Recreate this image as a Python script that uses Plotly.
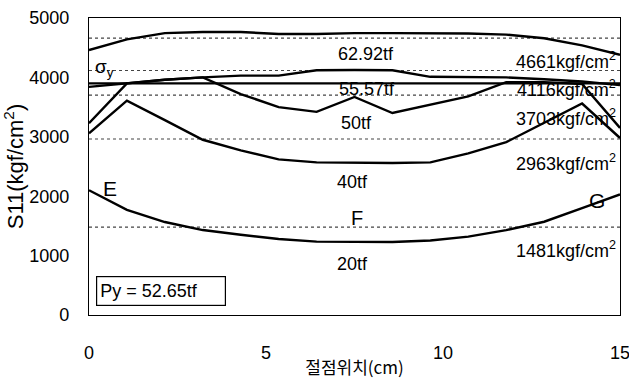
import plotly.graph_objects as go

# Node positions along the member (cm): 15 equally spaced nodes
node_x = [round(i * 15 / 14, 3) for i in range(15)]

load_labels = ["62.92tf", "55.57tf", "50tf", "40tf", "20tf"]
s11_6292 = [4460, 4640, 4745, 4765, 4765, 4730, 4730, 4745, 4745, 4745, 4740, 4720, 4660, 4540, 4380]
s11_5557 = [3840, 3900, 3960, 4000, 4030, 4030, 4120, 4125, 4120, 4010, 4005, 4000, 3970, 3930, 3870]
s11_50 = [3230, 3900, 3960, 4000, 3720, 3500, 3420, 3670, 3400, 3540, 3680, 3920, 3920, 3890, 3150]
s11_40 = [3060, 3610, 3280, 2950, 2770, 2620, 2570, 2560, 2560, 2570, 2720, 2910, 3230, 3560, 2980]
s11_20 = [2100, 1770, 1565, 1430, 1350, 1280, 1235, 1230, 1230, 1255, 1320, 1430, 1570, 1800, 2030]
series = [s11_6292, s11_5557, s11_50, s11_40, s11_20]

# Nominal stress P/A for each load (kgf/cm^2)
nominal = [4661, 4116, 3703, 2963, 1481]
sigma_y = 3900  # yield stress line (Py = 52.65tf)
py_text = "Py = 52.65tf"

FONT = "Liberation Sans, Arial, Helvetica, sans-serif"
FS = 18
fig = go.Figure()

for v in nominal:
    fig.add_trace(go.Scatter(x=[0, 15], y=[v, v], mode="lines",
                             line=dict(color="#444", width=1.2, dash="dot"),
                             hoverinfo="skip", showlegend=False))

fig.add_trace(go.Scatter(x=[0, 15], y=[sigma_y, sigma_y], mode="lines",
                         line=dict(color="black", width=2.4),
                         hoverinfo="skip", showlegend=False))

for name, ys in zip(load_labels, series):
    fig.add_trace(go.Scatter(x=node_x, y=ys, mode="lines", name=name,
                             line=dict(color="black", width=2.4),
                             showlegend=False))

ann = []
# load labels under each curve
label_pos = [(7.82, 4400), (7.85, 3810), (7.55, 3230), (7.45, 2240), (7.45, 860)]
for text, (lx, ly) in zip(load_labels, label_pos):
    ann.append(dict(x=lx, y=ly, text=text, showarrow=False,
                    font=dict(size=FS, family=FONT, color="black")))

# nominal stress labels at right edge
nom_y = [4290, 3820, 3330, 2560, 1110]
for v, ly in zip(nominal, nom_y):
    ann.append(dict(x=15, y=ly, xanchor="right", text=f"{v}kgf/cm<sup>2</sup>",
                    showarrow=False, xshift=-2,
                    font=dict(size=FS, family=FONT, color="black")))

ann += [
    dict(x=0.58, y=2130, text="E", showarrow=False, font=dict(size=21, family=FONT, color="black")),
    dict(x=7.57, y=1640, text="F", showarrow=False, font=dict(size=20, family=FONT, color="black")),
    dict(x=14.35, y=1920, text="G", showarrow=False, font=dict(size=21, family=FONT, color="black")),
    dict(x=0.45, y=4150, text="σ<sub>y</sub>", showarrow=False, font=dict(size=19, family=FONT, color="black")),
    dict(x=0.2, y=400, xanchor="left", text=py_text, showarrow=False, align="left",
         width=122, height=22,
         bordercolor="black", borderwidth=1.2, borderpad=3, bgcolor="white",
         font=dict(size=FS, family=FONT, color="black")),
]

fig.update_layout(
    width=629, height=381,
    margin=dict(l=89, r=9, t=18, b=66),
    paper_bgcolor="white", plot_bgcolor="white",
    font=dict(family=FONT, size=FS, color="black"),
    annotations=ann,
    xaxis=dict(range=[0, 15], tickvals=[0, 5, 10, 15], showgrid=False, zeroline=False,
               showline=True, linecolor="black", linewidth=1.3, mirror=True,
               ticks="", ticklabelstandoff=21, automargin=False, ticklabeloverflow="allow",
               title=dict(text="절점위치(cm)", standoff=0,
                          font=dict(size=17, family="Noto Sans CJK KR, " + FONT))),
    yaxis=dict(range=[0, 5000], tickvals=[0, 1000, 2000, 3000, 4000, 5000], showgrid=False,
               zeroline=False, showline=True, linecolor="black", linewidth=1.3, mirror=True,
               ticks="", ticklabelstandoff=15, automargin=False, ticklabeloverflow="allow",
               title=dict(text="S11(kgf/cm<sup>2</sup>)", standoff=4)),
)

fig.write_html("out.html")
